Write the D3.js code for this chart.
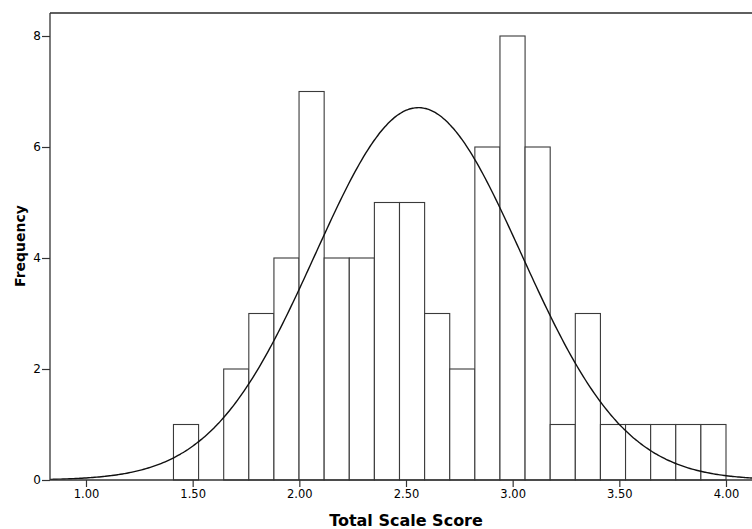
<!DOCTYPE html>
<html>
<head>
<meta charset="utf-8">
<script src="https://cdn.jsdelivr.net/npm/d3@7"></script>
<style>
  html, body { margin: 0; padding: 0; background: #fff; }
  svg { display: block; }
  text { font-family: "DejaVu Sans", sans-serif; fill: #000; }
</style>
</head>
<body>
<svg width="752" height="529"></svg>
<script>
// histogram data: 22 equal bins from binStart to binEnd
const binStart = 1.41;
const binEnd = 4.00;
const counts = [1, 0, 2, 3, 4, 7, 4, 4, 5, 5, 3, 2, 6, 8, 6, 1, 3, 1, 1, 1, 1, 1];

// fitted normal curve (mean / std. dev.)
const curveMean = 2.558;
const curveSd = 0.483;

const xTicks = [1.0, 1.5, 2.0, 2.5, 3.0, 3.5, 4.0];
const yTicks = [0, 2, 4, 6, 8];

const xTitle = 'Total Scale Score';
const yTitle = 'Frequency';

const svg = d3.select('svg');

// plot frame
const plotLeft = 50;
const plotTop = 13;
const plotBottom = 480;
const plotRight = 790;

const x = d3.scaleLinear().domain([1, 4]).range([86, 726]);
const y = d3.scaleLinear().domain([0, 8]).range([plotBottom, 36]);

const binWidth = (binEnd - binStart) / counts.length;
const total = d3.sum(counts);

// bins with their edges, empty ones dropped
const bins = counts
  .map((c, i) => ({ count: c, x0: binStart + i * binWidth, x1: binStart + (i + 1) * binWidth }))
  .filter(b => b.count > 0);

// bars
svg.append('g')
  .selectAll('rect')
  .data(bins)
  .enter().append('rect')
    .attr('x', d => x(d.x0))
    .attr('y', d => y(d.count))
    .attr('width', d => x(d.x1) - x(d.x0))
    .attr('height', d => y(0) - y(d.count))
    .attr('fill', '#fff')
    .attr('stroke', '#3a3a3a')
    .attr('stroke-width', 1.1);

// normal curve
const peak = total * binWidth / (curveSd * Math.sqrt(2 * Math.PI));
const normal = v => peak * Math.exp(-0.5 * Math.pow((v - curveMean) / curveSd, 2));
const curveXs = d3.range(x.invert(plotLeft), x.invert(752) + 0.01, 0.01);

svg.append('path')
  .datum(curveXs)
  .attr('fill', 'none')
  .attr('stroke', '#111')
  .attr('stroke-width', 1.4)
  .attr('d', d3.line().x(d => x(d)).y(d => y(normal(d))).curve(d3.curveBasis));

// frame: top border
svg.append('line')
  .attr('x1', plotLeft).attr('x2', plotRight)
  .attr('y1', plotTop).attr('y2', plotTop)
  .attr('stroke', '#2a2a2a').attr('stroke-width', 1.3);

// y axis
const yAxis = d3.axisLeft(y)
  .tickValues(yTicks)
  .tickFormat(d3.format('d'))
  .tickSize(8)
  .tickSizeOuter(0);

const yG = svg.append('g')
  .attr('transform', `translate(${plotLeft},0)`)
  .call(yAxis);
yG.select('.domain').remove();
yG.selectAll('.tick line').attr('stroke', '#333').attr('stroke-width', 1.2);
yG.selectAll('.tick text')
  .attr('x', -9)
  .style('font-family', '"DejaVu Sans", sans-serif')
  .style('font-size', '12px')
  .attr('fill', '#111');

yG.append('line')
  .attr('x1', 0).attr('x2', 0)
  .attr('y1', plotTop).attr('y2', plotBottom)
  .attr('stroke', '#333').attr('stroke-width', 1.3);

// x axis
const xAxis = d3.axisBottom(x)
  .tickValues(xTicks)
  .tickFormat(d3.format('.2f'))
  .tickSize(7)
  .tickSizeOuter(0);

const xG = svg.append('g')
  .attr('transform', `translate(0,${plotBottom})`)
  .call(xAxis);
xG.select('.domain').remove();
xG.selectAll('.tick line').attr('stroke', '#333').attr('stroke-width', 1.2);
xG.selectAll('.tick text')
  .attr('y', 10)
  .style('font-family', '"DejaVu Sans", sans-serif')
  .style('font-size', '11.5px')
  .attr('fill', '#111');

xG.append('line')
  .attr('x1', plotLeft).attr('x2', plotRight)
  .attr('y1', 0).attr('y2', 0)
  .attr('stroke', '#333').attr('stroke-width', 1.3);

// axis titles
svg.append('text')
  .attr('x', x(2.5))
  .attr('y', 526)
  .attr('text-anchor', 'middle')
  .style('font-size', '16px')
  .style('font-weight', 'bold')
  .text(xTitle);

svg.append('text')
  .attr('transform', 'translate(25,246) rotate(-90)')
  .attr('text-anchor', 'middle')
  .style('font-size', '14px')
  .style('font-weight', 'bold')
  .text(yTitle);
</script>
</body>
</html>
